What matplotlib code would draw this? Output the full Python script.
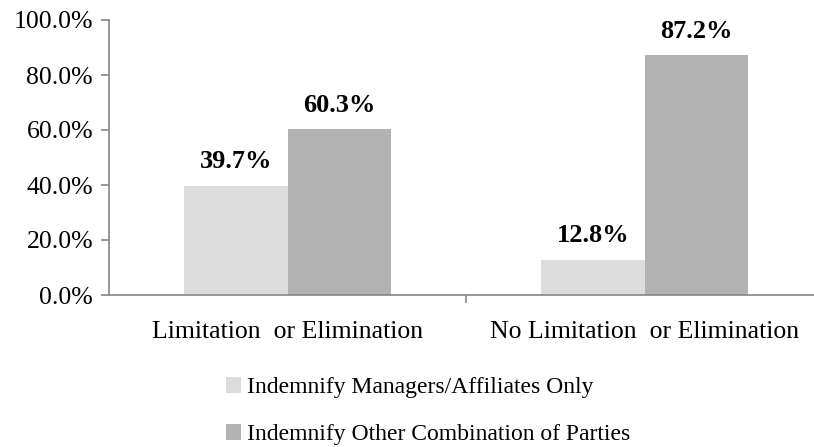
import matplotlib
matplotlib.use("Agg")
import matplotlib.pyplot as plt
import numpy as np

categories = ["Limitation  or Elimination", "No Limitation  or Elimination"]
series_names = ["Indemnify Managers/Affiliates Only", "Indemnify Other Combination of Parties"]
managers_only = [39.7, 12.8]
other_parties = [60.3, 87.2]

colors = ["#dcdcdc", "#b2b2b2"]
plt.rcParams["font.family"] = ["Liberation Serif", "DejaVu Serif"]

fig = plt.figure(figsize=(8.14, 4.47), dpi=100)
W, H = 814, 447
left, right, top, bottom = 109, 823, 20, 295
ax = fig.add_axes([left / W, 1 - bottom / H, (right - left) / W, (bottom - top) / H])

x = np.arange(len(categories))
w = 0.29
b1 = ax.bar(x - w / 2, managers_only, w, color=colors[0], label=series_names[0])
b2 = ax.bar(x + w / 2, other_parties, w, color=colors[1], label=series_names[1])

for bars, vals in [(b1, managers_only), (b2, other_parties)]:
    for bar, v in zip(bars, vals):
        ax.text(bar.get_x() + bar.get_width() / 2, v + 6.3, f"{v:.1f}%",
                ha="center", va="baseline", fontsize=19, fontweight="bold")

ax.set_xlim(-0.5, 1.5)
ax.set_ylim(0, 100)
ax.set_yticks(np.arange(0, 101, 20))
ax.set_yticklabels([f"{t:.1f}%" for t in range(0, 101, 20)], fontsize=18.5)
ax.set_xticks([0.5], minor=True)
ax.set_xticks(x)
ax.set_xticklabels(categories, fontsize=18.5)
ax.tick_params(axis="x", which="major", length=0, pad=19)
ax.tick_params(axis="x", which="minor", length=6, color="#868686", width=1.2)
ax.tick_params(axis="y", length=6, color="#868686", width=1.2, pad=5.5)

for s in ["top", "right"]:
    ax.spines[s].set_visible(False)
for s in ["left", "bottom"]:
    ax.spines[s].set_color("#868686")
    ax.spines[s].set_linewidth(1.2)

fig.legend(handles=[b1, b2], loc="upper left", bbox_to_anchor=(226 / W, 1 - 377 / H),
           frameon=False, fontsize=17, handlelength=0.64, handleheight=0.64,
           handletextpad=0.25, labelspacing=1.1, borderaxespad=0, borderpad=0)

fig.savefig("out.png", dpi=100)
